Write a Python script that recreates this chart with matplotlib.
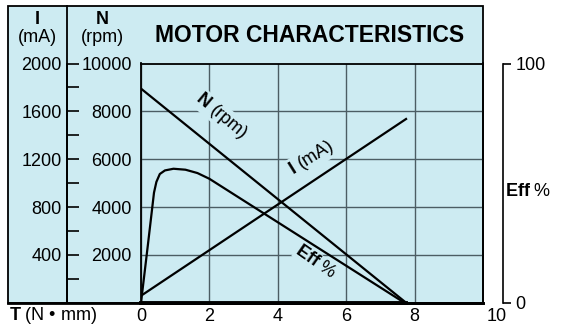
import matplotlib
matplotlib.use("Agg")
import matplotlib.pyplot as plt
import matplotlib.transforms as mtransforms
from matplotlib.patches import Rectangle
from matplotlib.lines import Line2D

plt.rcParams['font.family'] = ['Liberation Sans', 'DejaVu Sans']
plt.rcParams['mathtext.fontset'] = 'custom'
plt.rcParams['mathtext.rm'] = 'Liberation Sans'
plt.rcParams['mathtext.bf'] = 'Liberation Sans:bold'

# torque T in N*mm
speed_t = [0, 7.75]
speed_rpm = [8950, 0]
current_t = [0, 7.75]
current_ma = [58, 1536]
eff_t = [0, 0.2, 0.38, 0.45, 0.55, 0.7, 0.95, 1.3, 1.65, 2.0, 7.7]
eff_pct = [0, 24, 46, 50.5, 53.8, 55.3, 56, 55.6, 54.2, 51.8, 0]
base_t = [0, 7.75]
base_val = [0, 0]

t_ticks = [0, 2, 4, 6, 8, 10]
n_ticks = [0, 2000, 4000, 6000, 8000, 10000]
n_labels = ["", "2000", "4000", "6000", "8000", "10000"]
i_ticks = [400, 800, 1200, 1600, 2000]
i_minor = [200, 600, 1000, 1400, 1800]
eff_ticks = [0, 100]

panel_color = "#cdebf2"
grid_color = "#4c5d64"
fs = 13

W, H = 567, 324


def fx(px):
    return px / W


def fy(py):
    return 1 - py / H


fig = plt.figure(figsize=(5.67, 3.24), dpi=100)

# light blue panel with black border
panel = Rectangle((fx(8), fy(303)), fx(483) - fx(8), fy(6) - fy(303),
                  transform=fig.transFigure, facecolor=panel_color,
                  edgecolor="black", lw=1.3, zorder=-5)
fig.patches.append(panel)
fig.lines.append(Line2D([fx(67), fx(67)], [fy(6), fy(303)], transform=fig.transFigure,
                        color="black", lw=1.3))
fig.lines.append(Line2D([fx(8), fx(483)], [fy(303), fy(303)], transform=fig.transFigure,
                        color="black", lw=2))

ax = fig.add_axes([fx(141), fy(302.7), fx(483) - fx(141), fy(63.5) - fy(302.7)])
ax.set_facecolor("none")
ax.set_xlim(0, 10)
ax.set_ylim(0, 10000)
ax.set_xticks(t_ticks)
ax.set_yticks(n_ticks)
ax.set_yticklabels(n_labels)
ax.tick_params(axis="y", length=0, pad=6.5, labelsize=fs)
ax.tick_params(axis="x", length=0, pad=4, labelsize=fs)
ax.grid(True, color=grid_color, lw=1)
ax.set_axisbelow(True)
for s in ax.spines.values():
    s.set_linewidth(1.3)
ax.spines["bottom"].set_linewidth(2)

ax.plot(speed_t, speed_rpm, color="black", lw=1.6, solid_capstyle="butt")
ax.plot(base_t, base_val, color="black", lw=2.8, clip_on=False)

# current axis on the far left
ax_i = ax.twinx()
ax_i.set_ylim(0, 2000)
ax_i.yaxis.set_ticks_position("left")
ax_i.yaxis.set_label_position("left")
ax_i.spines["left"].set_position(("outward", 53.3))
for side in ["top", "bottom", "right"]:
    ax_i.spines[side].set_visible(False)
ax_i.spines["left"].set_linewidth(1.3)
ax_i.set_yticks(i_ticks)
ax_i.set_yticks(i_minor, minor=True)
ax_i.tick_params(axis="y", which="both", direction="in", length=8.6, width=1.2, pad=3.6, labelsize=fs)
ax_i.plot(current_t, current_ma, color="black", lw=1.6)

# efficiency axis on the right
ax_e = ax.twinx()
ax_e.set_ylim(0, 100)
ax_e.spines["right"].set_position(("outward", 14.4))
for side in ["top", "bottom", "left"]:
    ax_e.spines[side].set_visible(False)
ax_e.spines["right"].set_linewidth(1.2)
ax_e.set_yticks(eff_ticks)
ax_e.tick_params(axis="y", direction="out", length=5.8, width=1.2, pad=3, labelsize=fs)
ax_e.plot(eff_t, eff_pct, color="black", lw=1.6)

# shift the last torque label like the original
lab = ax.get_xticklabels()[-1]
lab.set_transform(lab.get_transform() + mtransforms.ScaledTranslation(0.14, 0, fig.dpi_scale_trans))

box = dict(facecolor=panel_color, edgecolor="none", pad=0.5)
ax.text(2.35, 7800, r"$\mathbf{N}$ (rpm)", rotation=-40, ha="center", va="center",
        fontsize=fs, bbox=box, rotation_mode="anchor")
ax.text(4.98, 6050, r"$\mathbf{I}$ (mA)", rotation=32, ha="center", va="center",
        fontsize=fs, bbox=box, rotation_mode="anchor")
ax.text(5.12, 1700, r"$\mathbf{Eff}$ %", rotation=-35, ha="center", va="center",
        fontsize=fs, bbox=box, rotation_mode="anchor")

fig.text(fx(37), fy(19), "I", weight="bold", ha="center", va="center", fontsize=fs)
fig.text(fx(37), fy(38), "(mA)", ha="center", va="center", fontsize=fs)
fig.text(fx(102), fy(19), "N", weight="bold", ha="center", va="center", fontsize=fs)
fig.text(fx(102), fy(38), "(rpm)", ha="center", va="center", fontsize=fs)
fig.text(fx(310), fy(36), "MOTOR CHARACTERISTICS", weight="bold", ha="center", va="center",
         fontsize=16.5)
fig.text(fx(9), fy(315), r"$\mathbf{T}$ (N • mm)", ha="left", va="center", fontsize=fs)
fig.text(fx(505), fy(192), r"$\mathbf{Eff}$ %", ha="left", va="center", fontsize=fs)

fig.savefig("out.png", dpi=100)
